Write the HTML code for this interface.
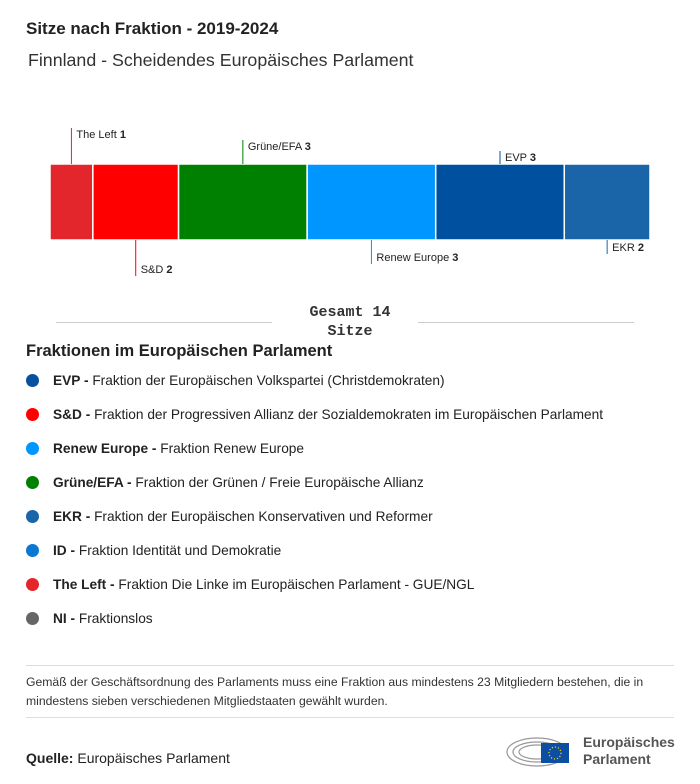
<!DOCTYPE html>
<html><head><meta charset="utf-8"><style>
body{margin:0;width:700px;height:784px;background:#fff;font-family:"Liberation Sans",sans-serif;color:#222;position:relative;overflow:hidden}
.abs{position:absolute}
.leg{position:absolute;left:26px;font-size:13.7px;color:#222}
.leg .dot{display:inline-block;width:13px;height:13px;border-radius:50%;vertical-align:-2px;margin-right:14px}
</style></head><body>
<div class="abs" style="left:26px;top:19px;font-size:17px;font-weight:bold">Sitze nach Fraktion - 2019-2024</div>
<div class="abs" style="left:28px;top:50px;font-size:17.8px;color:#333">Finnland - Scheidendes Europäisches Parlament</div>
<svg class="abs" style="left:0;top:0" width="700" height="300" id="chart"></svg>
<div class="abs" style="left:56px;top:322px;width:216px;height:1px;background:#ccc"></div>
<div class="abs" style="left:418px;top:322px;width:216px;height:1px;background:#ccc"></div>
<div class="abs" style="left:280px;top:303px;width:140px;text-align:center;font-family:'Liberation Mono',monospace;font-weight:bold;font-size:15px;line-height:19px;color:#333">Gesamt 14<br>Sitze</div>
<div class="abs" style="left:26px;top:342px;font-size:16.5px;font-weight:bold">Fraktionen im Europäischen Parlament</div>
<div class="leg" style="top:373px"><span class="dot" style="background:#0a4e9e"></span><b>EVP -</b> Fraktion der Europäischen Volkspartei (Christdemokraten)</div>
<div class="leg" style="top:407px"><span class="dot" style="background:#f00"></span><b>S&amp;D -</b> Fraktion der Progressiven Allianz der Sozialdemokraten im Europäischen Parlament</div>
<div class="leg" style="top:441px"><span class="dot" style="background:#0096ff"></span><b>Renew Europe -</b> Fraktion Renew Europe</div>
<div class="leg" style="top:475px"><span class="dot" style="background:#008000"></span><b>Grüne/EFA -</b> Fraktion der Grünen / Freie Europäische Allianz</div>
<div class="leg" style="top:509px"><span class="dot" style="background:#1a64a8"></span><b>EKR -</b> Fraktion der Europäischen Konservativen und Reformer</div>
<div class="leg" style="top:543px"><span class="dot" style="background:#0a78d0"></span><b>ID -</b> Fraktion Identität und Demokratie</div>
<div class="leg" style="top:577px"><span class="dot" style="background:#e3262b"></span><b>The Left -</b> Fraktion Die Linke im Europäischen Parlament - GUE/NGL</div>
<div class="leg" style="top:611px"><span class="dot" style="background:#666"></span><b>NI -</b> Fraktionslos</div>
<div class="abs" style="left:26px;top:665px;width:648px;height:1px;background:#ddd"></div>
<div class="abs" style="left:26px;top:673px;width:652px;font-size:12.2px;line-height:19px;color:#333">Gemäß der Geschäftsordnung des Parlaments muss eine Fraktion aus mindestens 23 Mitgliedern bestehen, die in mindestens sieben verschiedenen Mitgliedstaaten gewählt wurden.</div>
<div class="abs" style="left:26px;top:717px;width:648px;height:1px;background:#ddd"></div>
<div class="abs" style="left:26px;top:750px;font-size:14px"><b>Quelle:</b> Europäisches Parlament</div>
<div class="abs" style="left:505px;top:730px;width:175px;height:40px">
<svg width="75" height="40" style="position:absolute;left:0;top:0">
<g fill="none" stroke="#999" stroke-width="1.2"><ellipse cx="32" cy="22" rx="30" ry="14"/><ellipse cx="32" cy="22" rx="24" ry="10"/><ellipse cx="32" cy="22" rx="18" ry="7"/></g>
<rect x="36" y="13" width="28" height="20" fill="#0b4ea2"/>
<circle cx="50" cy="23" r="6" fill="none" stroke="#fc0" stroke-width="1.3" stroke-dasharray="1.2 1.9"/>
</svg>
<div style="position:absolute;left:78px;top:4px;font-size:14px;font-weight:bold;color:#555;line-height:17px">Europäisches<br>Parlament</div>
</div>
<script>
const parties=["The Left","S&D","Grüne/EFA","Renew Europe","EVP","EKR"];
const seats=[1,2,3,3,3,2];
const colors=["#e3262b","#ff0000","#008000","#0096ff","#0050a0","#1a64a8"];
const labelSide=["top","bottom","top","bottom","top","bottom"];
const labelLen=[36,36,24,24,13,14];
const svg=document.getElementById('chart');
const NS="http://www.w3.org/2000/svg";
const total=seats.reduce((a,b)=>a+b,0);
const x0=50,x1=650,yTop=164,yBot=240;
const xs=v=>x0+(x1-x0)*v/total;
let cum=0;
seats.forEach((s,i)=>{
 const a=xs(cum),b=xs(cum+s);cum+=s;
 const r=document.createElementNS(NS,'rect');
 r.setAttribute('x',a);r.setAttribute('y',yTop);r.setAttribute('width',b-a);r.setAttribute('height',yBot-yTop);
 r.setAttribute('fill',colors[i]);r.setAttribute('stroke','#fff');r.setAttribute('stroke-width','1.5');
 
 
 svg.appendChild(r);
 const cx=(a+b)/2;
 const top=labelSide[i]==="top";
 const y2=top?yTop-labelLen[i]:yBot+labelLen[i];
 const l=document.createElementNS(NS,'line');
 l.setAttribute('x1',cx);l.setAttribute('x2',cx);l.setAttribute('y1',top?yTop:yBot);l.setAttribute('y2',y2);
 l.setAttribute('stroke',colors[i]);l.setAttribute('stroke-width','1');
 
 
 svg.appendChild(l);
 const t=document.createElementNS(NS,'text');
 t.setAttribute('x',cx+5);t.setAttribute('y',top?y2+10:y2-3);
 t.setAttribute('font-size','11');t.setAttribute('fill','#222');t.setAttribute('font-family','Liberation Sans, sans-serif');
 t.textContent=parties[i]+' ';
 const ts=document.createElementNS(NS,'tspan');ts.setAttribute('font-weight','bold');ts.textContent=s;t.appendChild(ts);
 
 
 svg.appendChild(t);
});
</script>
</body></html>
